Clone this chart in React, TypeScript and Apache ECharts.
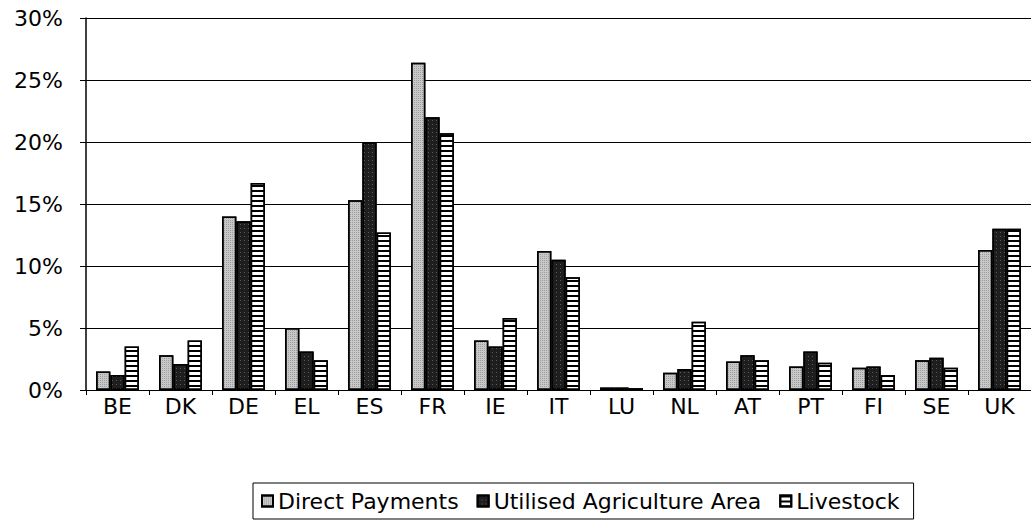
import React, { useEffect, useRef } from "react";
import * as echarts from "echarts";

const categories = ["BE", "DK", "DE", "EL", "ES", "FR", "IE", "IT", "LU", "NL", "AT", "PT", "FI", "SE", "UK"];
const directPayments = [1.5, 2.8, 14.0, 5.0, 15.3, 26.4, 4.0, 11.2, 0.2, 1.4, 2.3, 1.9, 1.8, 2.4, 11.3];
const utilisedArea = [1.2, 2.1, 13.6, 3.1, 20.0, 22.0, 3.5, 10.5, 0.2, 1.7, 2.8, 3.1, 1.9, 2.6, 13.0];
const livestock = [3.5, 4.0, 16.7, 2.4, 12.7, 20.7, 5.8, 9.1, 0.15, 5.5, 2.4, 2.2, 1.2, 1.8, 13.0];
const seriesNames = ["Direct Payments", "Utilised Agriculture Area", "Livestock"];

const FONT = "'DejaVu Sans', 'Liberation Sans', Arial, sans-serif";

export default function App() {
  const ref = useRef<HTMLDivElement>(null);
  useEffect(() => {
    if (!ref.current) return;
    const chart = echarts.init(ref.current, null, { renderer: "svg" });
    const border = { borderColor: "#000", borderWidth: 1.5 };
    chart.setOption({
      animation: false,
      backgroundColor: "#fff",
      grid: { left: 86, top: 18, right: 0, bottom: 134, containLabel: false },
      legend: {
        left: 253,
        top: 483,
        orient: "horizontal",
        itemWidth: 11,
        itemHeight: 11,
        itemGap: 18,
        padding: [7, 14, 7, 8],
        borderColor: "#000",
        borderWidth: 1,
        borderRadius: 0,
        textStyle: { fontFamily: FONT, fontSize: 22, color: "#000" },
        data: seriesNames.map((n) => ({ name: n, icon: "rect" })),
      },
      xAxis: {
        type: "category",
        data: categories,
        axisLine: { lineStyle: { color: "#000", width: 1 } },
        axisTick: { show: true, length: 5, lineStyle: { color: "#000" } },
        axisLabel: { fontFamily: FONT, fontSize: 22, color: "#000", margin: 5 },
      },
      yAxis: {
        type: "value",
        min: 0,
        max: 30,
        interval: 5,
        axisLine: { show: true, lineStyle: { color: "#000", width: 1.5 } },
        axisTick: { show: true, length: 6, lineStyle: { color: "#000" } },
        axisLabel: { fontFamily: FONT, fontSize: 22, color: "#000", margin: 23, formatter: "{value}%" },
        splitLine: { show: true, lineStyle: { color: "#000", width: 1 } },
      },
      series: [
        {
          name: seriesNames[0],
          type: "bar",
          data: directPayments,
          barGap: "0%",
          barCategoryGap: "32%",
          itemStyle: {
            color: "#c8c8c8",
            ...border,
            decal: {
              symbol: "rect",
              symbolSize: 1,
              dashArrayX: [1, 1],
              dashArrayY: [1, 1],
              color: "rgba(80,80,80,0.35)",
            },
          },
        },
        {
          name: seriesNames[1],
          type: "bar",
          data: utilisedArea,
          itemStyle: {
            color: "#1e1e1e",
            ...border,
            decal: {
              symbol: "rect",
              symbolSize: 1,
              dashArrayX: [1, 3],
              dashArrayY: [1, 3],
              color: "rgba(150,150,150,0.5)",
            },
          },
        },
        {
          name: seriesNames[2],
          type: "bar",
          data: livestock,
          itemStyle: {
            color: "#fff",
            ...border,
            decal: {
              symbol: "rect",
              symbolSize: 1,
              dashArrayX: [1, 0],
              dashArrayY: [2, 2.5],
              rotation: 0,
              color: "#000",
            },
          },
        },
      ],
    });
    return () => chart.dispose();
  }, []);
  return <div ref={ref} style={{ position: "fixed", left: 0, top: 0, width: 1031, height: 524 }} />;
}
